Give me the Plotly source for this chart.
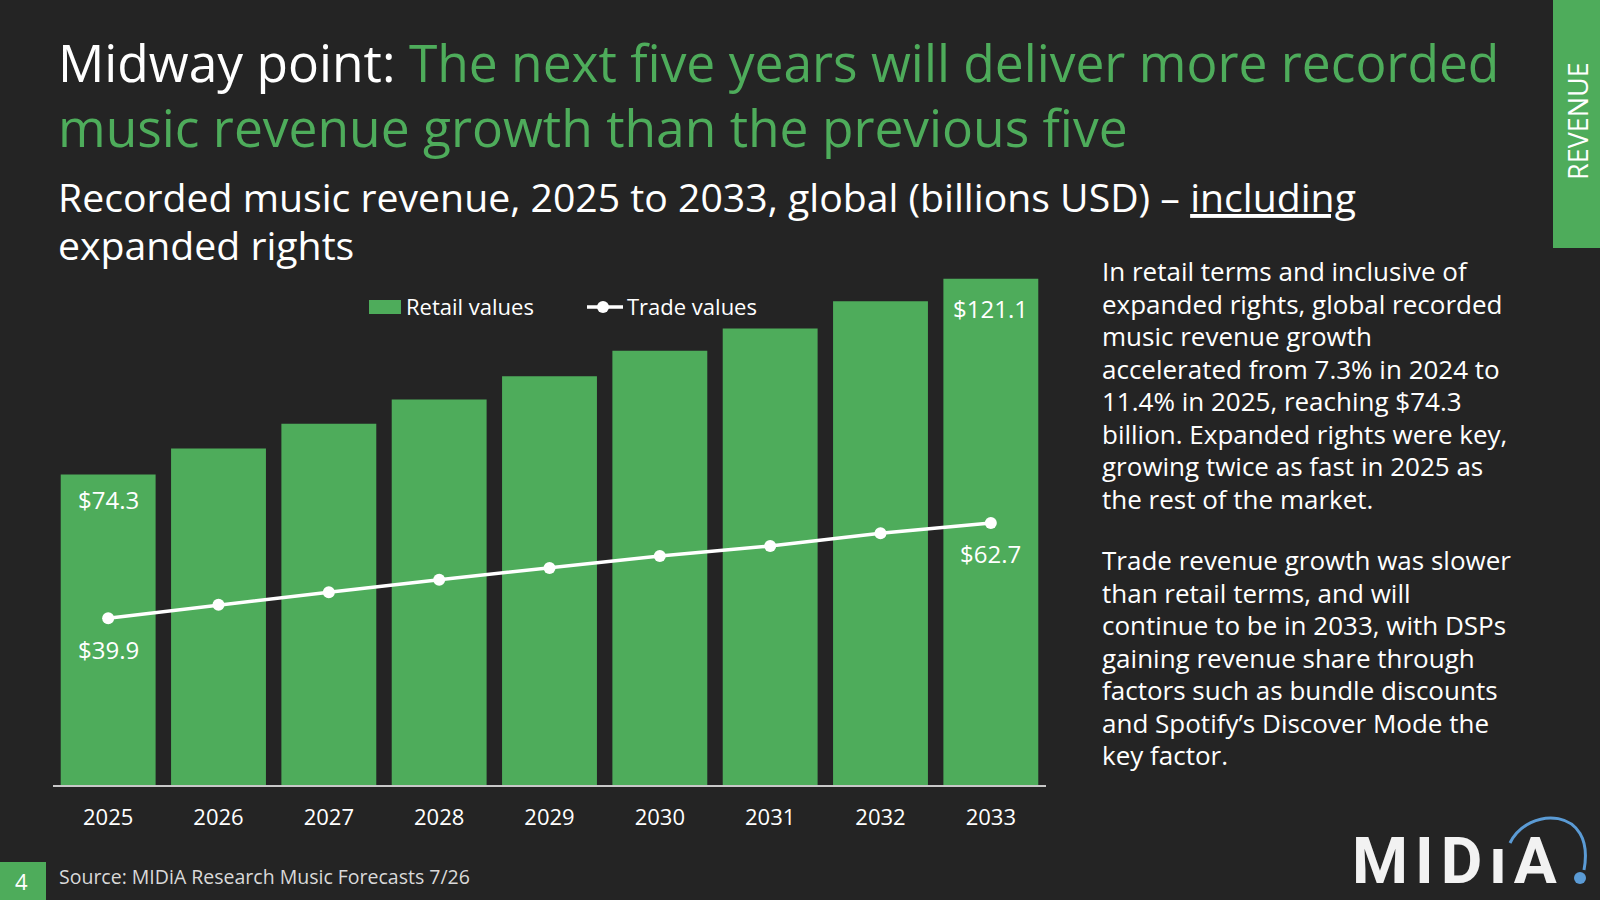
import plotly.graph_objects as go

# chart data
years = ["2025", "2026", "2027", "2028", "2029", "2030", "2031", "2032", "2033"]
retail = [74.3, 80.5, 86.4, 92.2, 97.8, 103.9, 109.2, 115.7, 121.1]
trade = [39.9, 43.1, 46.1, 49.1, 51.9, 54.8, 57.2, 60.2, 62.7]

title_white = "Midway point: "
title_green = ["The next five years will deliver more recorded",
               "music revenue growth than the previous five"]
subtitle = ["Recorded music revenue, 2025 to 2033, global (billions USD) – ",
            "including", "expanded rights"]
para1 = ["In retail terms and inclusive of",
         "expanded rights, global recorded",
         "music revenue growth",
         "accelerated from 7.3% in 2024 to",
         "11.4% in 2025, reaching $74.3",
         "billion. Expanded rights were key,",
         "growing twice as fast in 2025 as",
         "the rest of the market."]
para2 = ["Trade revenue growth was slower",
         "than retail terms, and will",
         "continue to be in 2033, with DSPs",
         "gaining revenue share through",
         "factors such as bundle discounts",
         "and Spotify’s Discover Mode the",
         "key factor."]
source = "Source: MIDiA Research Music Forecasts 7/26"

BG = "#242424"
GREEN = "#4EAC5B"
BLUE = "#5B9BD5"
FONT = "Open Sans"

W, H = 1600, 900
ML, MR, MT, MB = 53, 554, 270, 115
PW = W - ML - MR
PH = H - MT - MB


def px(x):
    return (x - ML) / PW


def py(y):
    return (H - MB - y) / PH


def sp(s, size, extra=""):
    # glyph size set per span, line spacing comes from the annotation font
    return "<span style='font-size:%spx;%s'>%s</span>" % (size, extra, s)


fig = go.Figure()
fig.add_trace(go.Bar(x=years, y=retail, name="Retail values",
                     marker=dict(color=GREEN, line=dict(width=0)),
                     hoverinfo="x+y"))
fig.add_trace(go.Scatter(x=years, y=trade, name="Trade values",
                         mode="lines+markers",
                         line=dict(color="white", width=3.5),
                         marker=dict(color="white", size=12)))

ann = []


def txt(x, y, s, size, color="white", xanchor="left", family=FONT, **kw):
    ann.append(dict(x=px(x), y=py(y), xref="paper", yref="paper", text=s,
                    showarrow=False, xanchor=xanchor, yanchor="middle",
                    font=dict(family=family, size=size, color=color), **kw))


# titles
t1 = sp(title_white, 51.5) + sp(title_green[0], 51.5, "fill:%s" % GREEN)
t2 = sp(title_green[1], 51.5, "fill:%s" % GREEN)
txt(56, 95, t1 + "<br>" + t2, 50, align="left")
s1 = sp(subtitle[0], 39.2) + sp(subtitle[1], 39.2, "text-decoration:underline")
s2 = sp(subtitle[2], 39.2)
txt(56, 220, s1 + "<br>" + s2, 37, align="left")

# commentary
txt(1100, 384.5, "<br>".join(sp(l, 26) for l in para1), 25, align="left")
txt(1100, 657.5, "<br>".join(sp(l, 26) for l in para2), 25, align="left")

# data labels
for i, yshift in [(0, -7), (8, -11)]:
    ann.append(dict(x=i, y=retail[i], xref="x", yref="y",
                    text="$%.1f" % retail[i], showarrow=False,
                    yanchor="top", yshift=yshift,
                    font=dict(family=FONT, size=24, color="white")))
for i, yshift in [(0, -13), (8, -12)]:
    ann.append(dict(x=i, y=trade[i], xref="x", yref="y",
                    text="$%.1f" % trade[i], showarrow=False,
                    yanchor="top", yshift=yshift,
                    font=dict(family=FONT, size=24, color="white")))

# legend (drawn by hand to match swatch shapes)
shapes = []
shapes.append(dict(type="rect", xref="paper", yref="paper",
                   x0=px(369), x1=px(401), y0=py(314), y1=py(300),
                   fillcolor=GREEN, line=dict(width=0)))
txt(404, 306, "Retail values", 22)
shapes.append(dict(type="line", xref="paper", yref="paper",
                   x0=px(587), x1=px(623), y0=py(307), y1=py(307),
                   line=dict(color="white", width=3.5)))
shapes.append(dict(type="circle", xref="paper", yref="paper",
                   x0=px(597), x1=px(609), y0=py(313), y1=py(301),
                   fillcolor="white", line=dict(width=0)))
txt(625, 306, "Trade values", 22)

# side tab
shapes.append(dict(type="rect", xref="paper", yref="paper",
                   x0=px(1553), x1=px(1600), y0=py(248), y1=py(0),
                   fillcolor=GREEN, line=dict(width=0)))
txt(1577, 121, "REVENUE", 27, xanchor="center", textangle=-90)

# footer
shapes.append(dict(type="rect", xref="paper", yref="paper",
                   x0=px(0), x1=px(46), y0=py(900), y1=py(862),
                   fillcolor=GREEN, line=dict(width=0)))
txt(21, 881, "4", 22, xanchor="center")
txt(57, 876, source, 19.5, color="#d9d9d9")

# logo
txt(1458, 861, "<b><span style='letter-spacing:7px'>MIDıA</span></b>", 64,
    color="#f2f2f2", xanchor="center", family="Roboto")
shapes.append(dict(type="path", xref="paper", yref="paper",
                   path="M %f,%f C %f,%f %f,%f %f,%f" % (
                       px(1510), py(843), px(1528), py(806),
                       px(1596), py(806), px(1584), py(870)),
                   line=dict(color=BLUE, width=3)))
shapes.append(dict(type="circle", xref="paper", yref="paper",
                   x0=px(1574), x1=px(1586), y0=py(884), y1=py(872),
                   fillcolor=BLUE, line=dict(width=0)))

fig.update_layout(
    width=W, height=H,
    margin=dict(l=ML, r=MR, t=MT, b=MB, pad=0),
    paper_bgcolor=BG, plot_bgcolor=BG,
    showlegend=False,
    bargap=0.14,
    font=dict(family=FONT, color="white"),
    annotations=ann,
    shapes=shapes,
    xaxis=dict(type="category", range=[-0.5, 8.5], showline=True,
               linecolor="#c8c8c8", linewidth=2, showgrid=False,
               ticks="", ticklabelstandoff=12,
               tickfont=dict(family=FONT, size=22, color="white"),
               fixedrange=True),
    yaxis=dict(range=[0, 123.2], visible=False, fixedrange=True),
)

fig.write_html("out.html", config={"displayModeBar": False},
               post_script="document.body.style.margin='0';")
